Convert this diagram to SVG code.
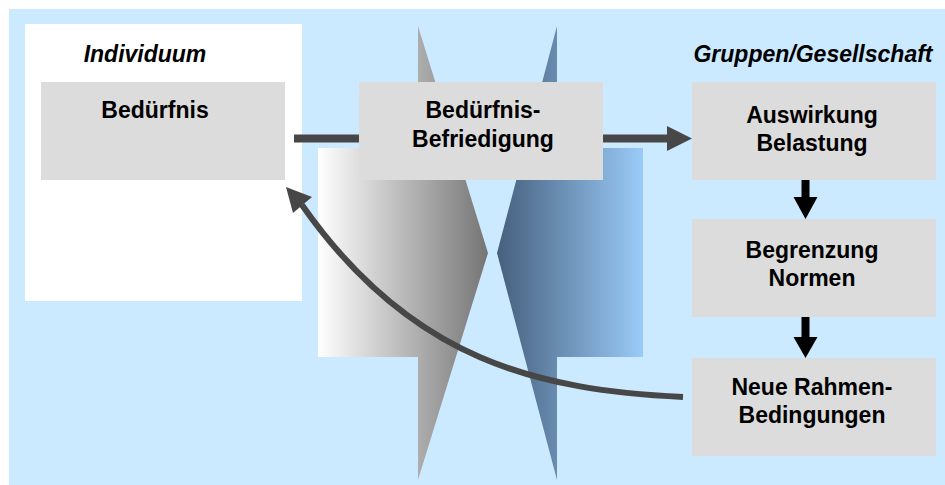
<svg xmlns="http://www.w3.org/2000/svg" width="945" height="485" viewBox="0 0 945 485">
<style>
.box{fill:#dcdcdc}
.t{font-family:"Liberation Sans",Arial,sans-serif;font-weight:bold;font-size:23px;fill:#000;text-anchor:middle}
.h{font-family:"Liberation Sans",Arial,sans-serif;font-weight:bold;font-style:italic;font-size:23px;fill:#000;text-anchor:middle}
.conn{stroke:#474747;fill:none}
</style>
<defs>
<linearGradient id="gGray" gradientUnits="userSpaceOnUse" x1="318" y1="0" x2="488" y2="0">
<stop offset="0" stop-color="#ffffff"/>
<stop offset="1" stop-color="#757575"/>
</linearGradient>
<linearGradient id="gBlue" gradientUnits="userSpaceOnUse" x1="497" y1="0" x2="643" y2="0">
<stop offset="0" stop-color="#465f7d"/>
<stop offset="1" stop-color="#9acbf8"/>
</linearGradient>
</defs>
<rect x="0" y="0" width="945" height="485" fill="#ffffff"/>
<rect x="9" y="9" width="936" height="476" fill="#cceaff"/>
<g id="individuum">
<rect x="25" y="24" width="277" height="277" fill="#ffffff"/>
<text class="h" x="145" y="62">Individuum</text>
</g>
<g id="decor">
<polygon points="318,148 418,148 418,26 488,253 418,480 418,357 318,357" fill="url(#gGray)"/>
<polygon points="643,148 557,148 557,26 497,253 557,480 557,357 643,357" fill="url(#gBlue)"/>
</g>
<g id="connectors">
<line class="conn" x1="294" y1="138.5" x2="668" y2="138.5" stroke-width="8"/>
<polygon points="667,126 692,138.5 667,151" fill="#474747"/>
<path class="conn" d="M683,397 C540,390 412,362 302,205" stroke-width="6"/>
<polygon points="286,187 293,213 312,197" fill="#474747"/>
<rect x="801.5" y="180" width="8" height="18" fill="#000"/>
<polygon points="793.5,197 817.5,197 805.5,219" fill="#000"/>
<rect x="801.5" y="317" width="8" height="21" fill="#000"/>
<polygon points="793.5,337 817.5,337 805.5,358" fill="#000"/>
</g>
<g id="beduerfnis">
<rect class="box" x="41" y="82" width="244" height="98"/>
<text class="t" x="155" y="118">Bedürfnis</text>
</g>
<g id="befriedigung">
<rect class="box" x="359" y="82" width="244" height="98"/>
<text class="t" x="483" y="118">Bedürfnis-</text>
<text class="t" x="483" y="147">Befriedigung</text>
</g>
<g id="gruppen">
<text class="h" x="813" y="62">Gruppen/Gesellschaft</text>
</g>
<g id="auswirkung">
<rect class="box" x="692" y="82" width="244" height="98"/>
<text class="t" x="812" y="123">Auswirkung</text>
<text class="t" x="812" y="151">Belastung</text>
</g>
<g id="begrenzung">
<rect class="box" x="692" y="219" width="244" height="98"/>
<text class="t" x="812" y="258">Begrenzung</text>
<text class="t" x="812" y="286">Normen</text>
</g>
<g id="rahmen">
<rect class="box" x="692" y="358" width="244" height="98"/>
<text class="t" x="812" y="395">Neue Rahmen-</text>
<text class="t" x="812" y="423">Bedingungen</text>
</g>
</svg>
